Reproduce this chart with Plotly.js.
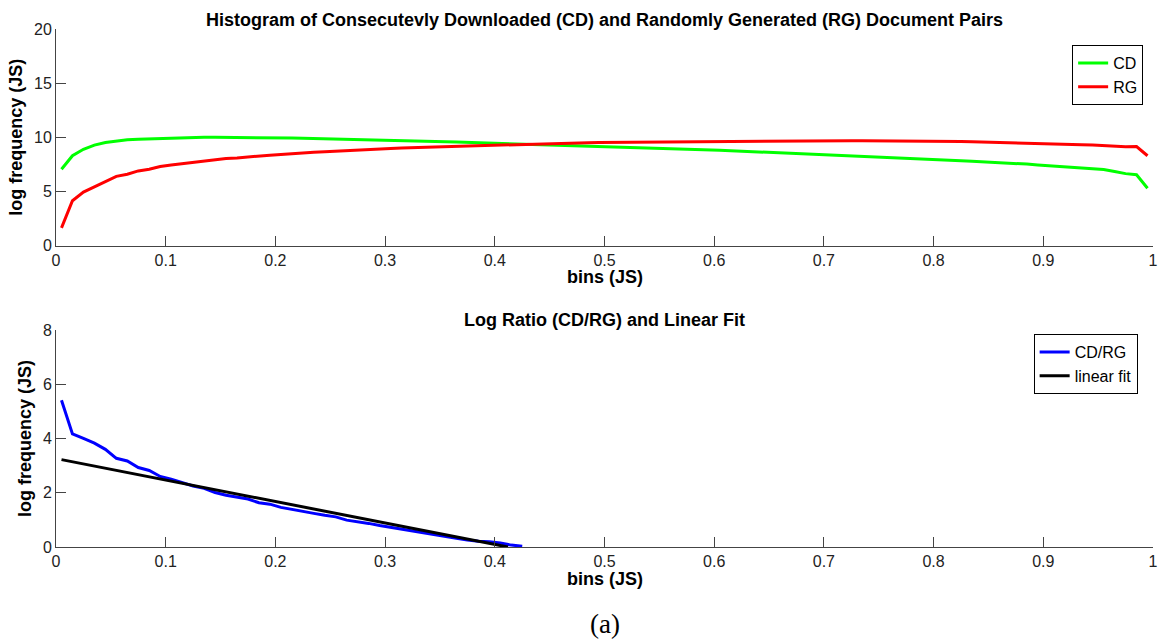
<!DOCTYPE html>
<html>
<head>
<meta charset="utf-8">
<script src="https://cdn.plot.ly/plotly-3.0.1.min.js"></script>
<style>html,body{margin:0;padding:0;background:#fff;}#chart{width:1163px;height:640px;}</style>
</head>
<body>
<div id="chart"></div>
<script>
// bin centres 0.005 ... 0.995
const bins = [0.005,0.015,0.025,0.035,0.045,0.055,0.065,0.075,0.085,0.095,
0.105,0.115,0.125,0.135,0.145,0.155,0.165,0.175,0.185,0.195,
0.205,0.215,0.225,0.235,0.245,0.255,0.265,0.275,0.285,0.295,
0.305,0.315,0.325,0.335,0.345,0.355,0.365,0.375,0.385,0.395,
0.405,0.415,0.425,0.435,0.445,0.455,0.465,0.475,0.485,0.495,
0.505,0.515,0.525,0.535,0.545,0.555,0.565,0.575,0.585,0.595,
0.605,0.615,0.625,0.635,0.645,0.655,0.665,0.675,0.685,0.695,
0.705,0.715,0.725,0.735,0.745,0.755,0.765,0.775,0.785,0.795,
0.805,0.815,0.825,0.835,0.845,0.855,0.865,0.875,0.885,0.895,
0.905,0.915,0.925,0.935,0.945,0.955,0.965,0.975,0.985,0.995];

const cdValues = [7.05,8.3,8.9,9.28,9.53,9.67,9.78,9.83,9.87,9.92,
9.96,9.98,10.0,10.01,10.0,10.0,10.0,9.99,9.98,9.98,
9.96,9.94,9.92,9.9,9.88,9.86,9.83,9.81,9.79,9.77,
9.74,9.71,9.68,9.65,9.62,9.6,9.57,9.54,9.5,9.47,
9.44,9.41,9.39,9.36,9.32,9.28,9.25,9.22,9.19,9.16,
9.13,9.1,9.08,9.05,9.01,8.97,8.94,8.91,8.87,8.83,
8.8,8.76,8.72,8.68,8.64,8.6,8.56,8.52,8.48,8.44,
8.4,8.36,8.32,8.28,8.24,8.2,8.16,8.11,8.06,8.0,
7.95,7.9,7.85,7.8,7.76,7.72,7.66,7.6,7.53,7.45,
7.38,7.32,7.26,7.2,7.12,7.04,6.85,6.65,6.55,5.3];

const rgValues = [1.64,4.15,4.95,5.45,5.9,6.4,6.6,6.9,7.05,7.3,
7.45,7.58,7.7,7.8,7.92,8.05,8.1,8.2,8.3,8.35,
8.42,8.5,8.56,8.62,8.66,8.7,8.78,8.8,8.85,8.92,
8.97,9.02,9.05,9.08,9.12,9.15,9.2,9.22,9.26,9.29,
9.32,9.36,9.39,9.42,9.44,9.46,9.48,9.5,9.51,9.52,
9.53,9.54,9.55,9.56,9.57,9.58,9.59,9.6,9.61,9.62,
9.63,9.64,9.65,9.65,9.66,9.67,9.67,9.68,9.68,9.69,
9.69,9.69,9.69,9.68,9.68,9.68,9.67,9.67,9.66,9.65,
9.64,9.63,9.61,9.59,9.57,9.55,9.53,9.51,9.49,9.46,
9.43,9.4,9.36,9.32,9.29,9.25,9.2,9.12,9.15,8.3];

const ratioBins = [0.005,0.015,0.025,0.035,0.045,0.055,0.065,0.075,0.085,0.095,
0.105,0.115,0.125,0.135,0.145,0.155,0.165,0.175,0.185,0.195,
0.205,0.215,0.225,0.235,0.245,0.255,0.265,0.275,0.285,0.295,
0.305,0.315,0.325,0.335,0.345,0.355,0.365,0.375,0.385,0.395,
0.405,0.415,0.425];
const ratioValues = [5.41,4.17,4.0,3.83,3.6,3.27,3.17,2.93,2.82,2.6,
2.5,2.37,2.25,2.16,2.01,1.91,1.85,1.77,1.63,1.58,
1.46,1.38,1.31,1.24,1.17,1.11,0.99,0.94,0.87,0.79,
0.72,0.66,0.59,0.53,0.46,0.38,0.32,0.26,0.21,0.19,
0.15,0.07,0.03];

const fitX = [0.005, 0.412];
const fitY = [3.22, 0.0];

const xTicks = [0,0.1,0.2,0.3,0.4,0.5,0.6,0.7,0.8,0.9,1];
const xTickText = ['0','0.1','0.2','0.3','0.4','0.5','0.6','0.7','0.8','0.9','1'];
const yTopTicks = [0,5,10,15,20];
const yBotTicks = [0,2,4,6,8];

const FONT = 'Liberation Sans, Arial, sans-serif';
const axisCommon = {
  showline:true, linecolor:'#444', linewidth:1, mirror:false,
  ticks:'inside', ticklen:10, tickcolor:'#444', tickwidth:1,
  showgrid:false, zeroline:false,
  tickfont:{family:FONT, size:16, color:'#222'}
};
const ytitleFont = {family:FONT, size:18, color:'#000'};

const traces = [
  {x:bins, y:cdValues, name:'CD', type:'scatter', mode:'lines', line:{color:'#00ff00', width:3}, xaxis:'x', yaxis:'y', legend:'legend'},
  {x:bins, y:rgValues, name:'RG', type:'scatter', mode:'lines', line:{color:'#ff0000', width:3}, xaxis:'x', yaxis:'y', legend:'legend'},
  {x:ratioBins, y:ratioValues, name:'CD/RG', type:'scatter', mode:'lines', line:{color:'#0000ff', width:3}, xaxis:'x2', yaxis:'y2', legend:'legend2'},
  {x:fitX, y:fitY, name:'linear fit', type:'scatter', mode:'lines', line:{color:'#000000', width:3}, xaxis:'x2', yaxis:'y2', legend:'legend2'}
];

const legendCommon = {
  bgcolor:'#fff', bordercolor:'#000', borderwidth:1,
  font:{family:FONT, size:16, color:'#000'},
  xanchor:'right', yanchor:'top', itemwidth:30, tracegroupgap:0
};

// plot area: y from 29 px (top) to 547 px (bottom) => 518 px
const layout = {
  width:1163, height:640,
  margin:{l:56, r:10, t:29, b:93},
  paper_bgcolor:'#fff', plot_bgcolor:'#fff',
  showlegend:true,
  xaxis:Object.assign({}, axisCommon, {domain:[0,1], range:[0,1], tickvals:xTicks, ticktext:xTickText, anchor:'y'}),
  yaxis:Object.assign({}, axisCommon, {domain:[0.5817,1], range:[0,20], tickvals:yTopTicks, anchor:'x',
     title:{text:'<b>log frequency (JS)</b>', font:ytitleFont, standoff:6}}),
  xaxis2:Object.assign({}, axisCommon, {domain:[0,1], range:[0,1], tickvals:xTicks, ticktext:xTickText, anchor:'y2'}),
  yaxis2:Object.assign({}, axisCommon, {domain:[0,0.419], range:[0,8], tickvals:yBotTicks, anchor:'x2',
     title:{text:'<b>log frequency (JS)</b>', font:ytitleFont, standoff:6}}),
  legend:Object.assign({}, legendCommon, {x:0.991, y:0.969}),
  legend2:Object.assign({}, legendCommon, {x:0.986, y:0.411}),
  annotations:[
    {text:'<b>Histogram of Consecutevly Downloaded (CD) and Randomly Generated (RG) Document Pairs</b>', xref:'paper', yref:'paper',
     x:0.5, y:1.0174, xanchor:'center', yanchor:'middle', showarrow:false, font:{family:FONT, size:18, color:'#000'}},
    {text:'<b>Log Ratio (CD/RG) and Linear Fit</b>', xref:'paper', yref:'paper',
     x:0.5, y:0.4382, xanchor:'center', yanchor:'middle', showarrow:false, font:{family:FONT, size:18, color:'#000'}},
    {text:'<b>bins (JS)</b>', xref:'paper', yref:'paper', x:0.5, y:0, yshift:(547-277), xanchor:'center', yanchor:'middle', showarrow:false,
     font:{family:FONT, size:18, color:'#000'}},
    {text:'<b>bins (JS)</b>', xref:'paper', yref:'paper', x:0.5, y:0, yshift:-32, xanchor:'center', yanchor:'middle', showarrow:false,
     font:{family:FONT, size:18, color:'#000'}},
    {text:'(a)', xref:'paper', yref:'paper', x:0.5, y:0, yshift:-77, xanchor:'center', yanchor:'middle', showarrow:false,
     font:{family:'Liberation Serif, Times New Roman, serif', size:27, color:'#000'}}
  ]
};

Plotly.newPlot('chart', traces, layout, {displayModeBar:false, staticPlot:true});
</script>
</body>
</html>
